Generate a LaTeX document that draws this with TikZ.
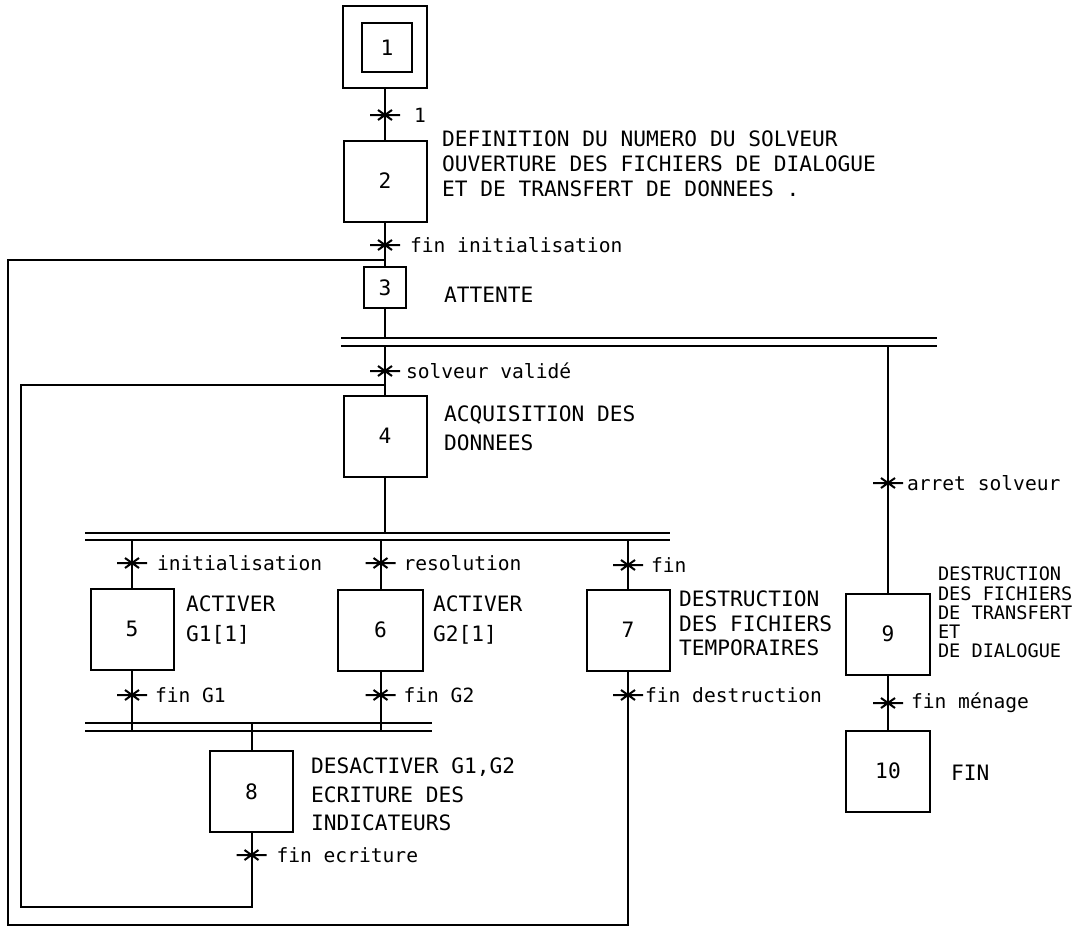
\documentclass[tikz,border=0pt]{standalone}
\usepackage{fontspec}
\newfontfamily\plotfont{DejaVu Sans Mono}
\usetikzlibrary{positioning}

\begin{document}
\begin{tikzpicture}[x=0.5pt,y=-0.5pt,line width=1pt]
  \tikzset{
    etape/.style={draw,minimum width=41.5pt,minimum height=40.5pt,inner sep=0pt,font=\plotfont\fontsize{10.6}{12}\selectfont},
    action/.style={font=\plotfont\fontsize{10.6}{12.5}\selectfont,align=left,anchor=north west,inner sep=0pt},
    cond/.style={font=\plotfont\fontsize{9.8}{11}\selectfont,anchor=west,inner sep=0pt},
    trans/.pic={\draw (-15,0) -- (15,0) (-7,-5) -- (7,5) (-7,5) -- (7,-5);}
  }
  \useasboundingbox (0,0) rectangle (1081,927);

  % etapes
  \node[etape,minimum width=42pt,minimum height=41pt] (s1) at (385,47) {};
  \node[etape,minimum width=25pt,minimum height=24.5pt] (s1i) at (387,47.5) {1};
  \node[etape] (s2) at (385,181) {2};
  \node[etape,minimum width=21pt,minimum height=20.5pt] (s3) at (385,287.5) {3};
  \node[etape] (s4) at (385,436) {4};
  \node[etape] (s5) at (132,629) {5};
  \node[etape,minimum width=42.5pt] (s6) at (380.5,630) {6};
  \node[etape] (s7) at (628,630) {7};
  \node[etape] (s8) at (251.5,791.5) {8};
  \node[etape,minimum width=42pt] (s9) at (888,634) {9};
  \node[etape,minimum width=42pt] (s10) at (888,771) {10};

  % actions
  \node[action] (a2) at (441,130) {DEFINITION DU NUMERO DU SOLVEUR\\OUVERTURE DES FICHIERS DE DIALOGUE\\ET DE TRANSFERT DE DONNEES .};
  \node[action,anchor=west] (a3) at (443,295) {ATTENTE};
  \node[action,font=\plotfont\fontsize{10.6}{14.5}\selectfont] (a4) at (443,405) {ACQUISITION DES\\DONNEES};
  \node[action,font=\plotfont\fontsize{10.6}{15}\selectfont] (a5) at (185,595) {ACTIVER\\G1[1]};
  \node[action,font=\plotfont\fontsize{10.6}{15}\selectfont] (a6) at (432,595) {ACTIVER\\G2[1]};
  \node[action,font=\plotfont\fontsize{10.6}{12.3}\selectfont] (a7) at (678,590) {DESTRUCTION\\DES FICHIERS\\TEMPORAIRES};
  \node[action,font=\plotfont\fontsize{10.6}{14.3}\selectfont] (a8) at (310,757) {DESACTIVER G1,G2\\ECRITURE DES\\INDICATEURS};
  \node[action,font=\plotfont\fontsize{9.3}{9.6}\selectfont] (a9) at (937,566) {DESTRUCTION\\DES FICHIERS\\DE TRANSFERT\\ET\\DE DIALOGUE};
  \node[action,anchor=west] (a10) at (950,773) {FIN};

  % barres de divergence / convergence en ET
  \coordinate (d1) at (341,338);  \coordinate (d1e) at (937,338);
  \coordinate (d1b) at (341,346); \coordinate (d1be) at (937,346);
  \coordinate (d2) at (85,533);   \coordinate (d2e) at (670,533);
  \coordinate (d2b) at (85,540);  \coordinate (d2be) at (670,540);
  \coordinate (d3) at (85,723);   \coordinate (d3e) at (432,723);
  \coordinate (d3b) at (85,731);  \coordinate (d3be) at (432,731);
  \draw (d1) -- (d1e) (d1b) -- (d1be);
  \draw (d2) -- (d2e) (d2b) -- (d2be);
  \draw (d3) -- (d3e) (d3b) -- (d3be);

  % liaisons
  \draw (s1) -- (s2);
  \draw (s2) -- (s3);
  \draw (s3) -- (s3 |- d1);
  \draw (s4.north) -- (s4.north |- d1b);
  \draw (s9.north) -- (s9.north |- d1b);
  \draw (s4.south) -- (s4.south |- d2);
  \draw (s5.north) -- (s5.north |- d2b);
  \draw (s6.north) -- (s6.north |- d2b);
  \draw (s7.north) -- (s7.north |- d2b);
  \draw (s5.south) -- (s5.south |- d3b);
  \draw (s6.south) -- (s6.south |- d3b);
  \draw (s8.north) -- (s8.north |- d3);
  \draw (s9) -- (s10);

  % reprises
  \coordinate (ri) at (21,907); \coordinate (rih) at (21,385);
  \coordinate (ro) at (8,925);  \coordinate (roh) at (8,260);
  \draw (s8.south) -- (s8.south |- ri) -- (ri) -- (rih) -- (rih -| s4);
  \draw (s7.south) -- (s7.south |- ro) -- (ro) -- (roh) -- (roh -| s3);

  % transitions
  \coordinate (t1) at (385,115);
  \coordinate (t2) at (385,245);
  \coordinate (t3) at (385,371);
  \coordinate (t4) at (888,483);
  \coordinate (t5) at (132,563);
  \coordinate (t6) at (380.5,563);
  \coordinate (t7) at (628,565);
  \coordinate (t8) at (132,695);
  \coordinate (t9) at (380.5,695);
  \coordinate (t10) at (628,695);
  \coordinate (t11) at (251.5,855);
  \coordinate (t12) at (888,703);
  \foreach \t in {t1,t2,t3,t4,t5,t6,t7,t8,t9,t10,t11,t12}
    \pic at (\t) {trans};

  \node[cond,right=14pt of t1] (c1) {1};
  \node[cond,right=12pt of t2] (c2) {fin initialisation};
  \node[cond,right=10pt of t3] (c3) {solveur validé};
  \node[cond,right=9pt of t4] (c4) {arret solveur};
  \node[cond,right=12pt of t5] (c5) {initialisation};
  \node[cond,right=11pt of t6] (c6) {resolution};
  \node[cond,right=11pt of t7] (c7) {fin};
  \node[cond,right=11pt of t8] (c8) {fin G1};
  \node[cond,right=11pt of t9] (c9) {fin G2};
  \node[cond,right=8pt of t10] (c10) {fin destruction};
  \node[cond,right=12pt of t11] (c11) {fin ecriture};
  \node[cond,right=11pt of t12] (c12) {fin ménage};
\end{tikzpicture}
\end{document}
